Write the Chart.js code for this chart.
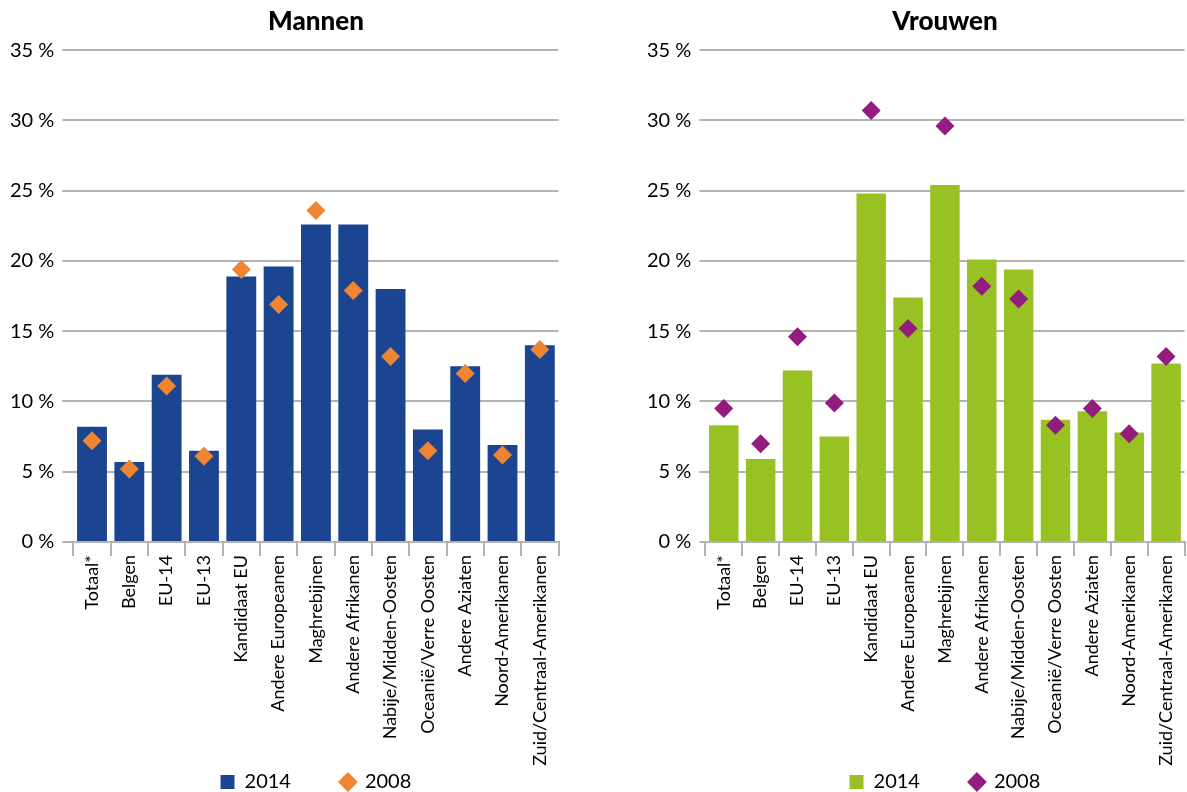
<!DOCTYPE html>
<html>
<head>
<meta charset="utf-8">
<script src="https://cdn.jsdelivr.net/npm/chart.js@4"></script>
<style>
  body { margin: 0; background: #fff; overflow: hidden; }
  .box { position: absolute; top: 0; height: 792px; }
  #left { left: 0; width: 568px; }
  #right { left: 600px; width: 594px; }
</style>
</head>
<body>
<div class="box" id="left"><canvas id="mannen"></canvas></div>
<div class="box" id="right"><canvas id="vrouwen"></canvas></div>
<script>
const categories = ["Totaal*", "Belgen", "EU-14", "EU-13", "Kandidaat EU", "Andere Europeanen",
    "Maghrebijnen", "Andere Afrikanen", "Nabije/Midden-Oosten", "Oceanië/Verre Oosten",
    "Andere Aziaten", "Noord-Amerikanen", "Zuid/Centraal-Amerikanen"];

const mannen2014 = [8.2, 5.7, 11.9, 6.5, 18.9, 19.6, 22.6, 22.6, 18.0, 8.0, 12.5, 6.9, 14.0];
const mannen2008 = [7.2, 5.2, 11.1, 6.1, 19.4, 16.9, 23.6, 17.9, 13.2, 6.5, 12.0, 6.2, 13.7];

const vrouwen2014 = [8.3, 5.9, 12.2, 7.5, 24.8, 17.4, 25.4, 20.1, 19.4, 8.7, 9.3, 7.8, 12.7];
const vrouwen2008 = [9.5, 7.0, 14.6, 9.9, 30.7, 15.2, 29.6, 18.2, 17.3, 8.3, 9.5, 7.7, 13.2];

const yTicks = [0, 5, 10, 15, 20, 25, 30, 35];

const fontName = "Lato, 'Open Sans', sans-serif";

// legend sits right under the long rotated labels: keep its box short
// and pull its top up so the big item padding doesn't eat the axis space
const legendShift = {
    id: "legendShift",
    beforeInit(chart) {
        const fit = chart.legend.fit;
        chart.legend.fit = function () {
            fit.call(this);
            this.height = 24;
        };
    },
    afterLayout(chart) {
        chart.legend.top -= 46;
    }
};

function makeChart(id, title, bars, points, barColor, pointColor, padLeft, gridExt) {
    const ctx = document.getElementById(id).getContext("2d");
    return new Chart(ctx, {
        type: "bar",
        data: {
            labels: categories,
            datasets: [{
                label: "2014",
                data: bars,
                backgroundColor: barColor,
                barPercentage: 0.8,
                categoryPercentage: 1,
                pointStyle: "rect",
                order: 1
            }, {
                type: "line",
                label: "2008",
                data: points,
                showLine: false,
                pointStyle: "rectRot",
                pointRadius: 9.5,
                pointHoverRadius: 9.5,
                backgroundColor: pointColor,
                borderColor: pointColor,
                borderWidth: 0,
                order: 0
            }]
        },
        plugins: [legendShift],
        options: {
            responsive: true,
            maintainAspectRatio: false,
            animation: false,
            layout: { padding: { left: padLeft, right: 0, top: 0, bottom: 0 } },
            plugins: {
                title: {
                    display: true,
                    fullSize: false,
                    text: title,
                    color: "#000",
                    font: { family: fontName, size: 26, weight: "900" },
                    padding: { top: 6, bottom: 13 }
                },
                legend: {
                    position: "bottom",
                    fullSize: false,
                    labels: {
                        usePointStyle: true,
                        color: "#000",
                        font: { family: fontName, size: 20 },
                        boxWidth: 14,
                        boxHeight: 14,
                        padding: 50,
                        sort: (a, b) => a.datasetIndex - b.datasetIndex
                    }
                },
                tooltip: { enabled: false }
            },
            scales: {
                x: {
                    offset: true,
                    afterFit: (scale) => { scale.height = 226; },
                    grid: {
                        offset: true,
                        drawOnChartArea: false,
                        drawTicks: true,
                        tickLength: 14,
                        color: "#b3b3b3",
                        lineWidth: 2
                    },
                    border: { color: "#b3b3b3", width: 2 },
                    ticks: {
                        color: "#000",
                        font: { family: fontName, size: 18 },
                        minRotation: 90,
                        maxRotation: 90,
                        autoSkip: false,
                        padding: -1
                    }
                },
                y: {
                    min: 0,
                    max: 35,
                    afterBuildTicks: (scale) => {
                        scale.ticks = yTicks.map(v => ({ value: v }));
                    },
                    grid: {
                        color: "#b3b3b3",
                        lineWidth: 2,
                        drawTicks: true,
                        tickLength: gridExt
                    },
                    border: { display: false },
                    ticks: {
                        color: "#000",
                        font: { family: fontName, size: 20 },
                        padding: 8,
                        callback: (v) => v + " %"
                    }
                }
            }
        }
    });
}

makeChart("mannen", "Mannen", mannen2014, mannen2008, "#1b4591", "#ef8431", 2, 11);
makeChart("vrouwen", "Vrouwen", vrouwen2014, vrouwen2008, "#98c123", "#931c7f", 39, 6);
</script>
</body>
</html>
